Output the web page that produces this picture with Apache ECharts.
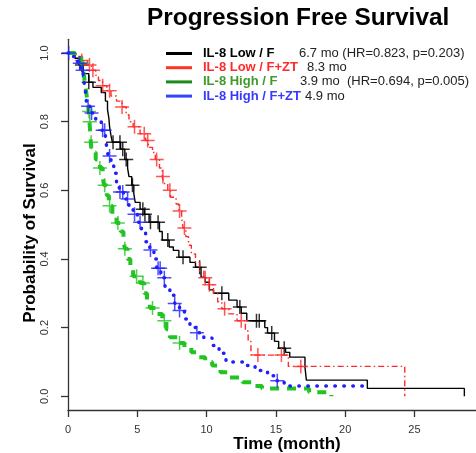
<!DOCTYPE html>
<html>
<head>
<meta charset="utf-8">
<script src="https://cdn.jsdelivr.net/npm/echarts@6/dist/echarts.min.js"></script>
<style>
  html, body { margin: 0; padding: 0; background: #fff; }
  #chart { width: 476px; height: 453px; }
</style>
</head>
<body>
<div id="chart"></div>
<script>
// Group labels and median PFS notes shown in the legend
const groupNames = ['IL-8 Low / F', 'IL-8 Low / F+ZT', 'IL-8 High / F', 'IL-8 High / F+ZT'];
const medianNotes = ['6.7 mo (HR=0.823, p=0.203)', '8.3 mo', '3.9 mo  (HR=0.694, p=0.005)', '4.9 mo'];

// Tick positions
const xTicks = [0, 5, 10, 15, 20, 25];
const yTicks = [0, 0.2, 0.4, 0.6, 0.8, 1.0];

// Kaplan-Meier steps: [time in months, survival after the event]
const lowF = [
  [0, 1], [0.5, 0.985], [0.8, 0.965], [1.1, 0.94], [1.5, 0.915], [1.8, 0.9], [2.4, 0.885],
  [2.7, 0.86], [2.85, 0.835], [2.95, 0.81], [3.0, 0.785], [3.1, 0.76], [3.2, 0.74], [3.8, 0.72],
  [4.1, 0.69], [4.3, 0.665], [4.4, 0.64], [4.6, 0.615], [4.75, 0.59], [4.85, 0.565], [5.2, 0.545],
  [5.5, 0.53], [5.85, 0.507], [6.6, 0.48], [6.8, 0.455], [7.3, 0.435], [7.6, 0.425], [8.0, 0.405],
  [8.8, 0.39], [9.2, 0.376], [9.6, 0.347], [9.9, 0.332], [10.2, 0.31], [10.5, 0.3], [11.6, 0.28],
  [12.2, 0.26], [12.5, 0.242], [12.9, 0.22], [14.2, 0.2], [14.4, 0.184], [14.9, 0.16], [15.2, 0.14],
  [15.7, 0.128], [16.0, 0.114], [17.1, 0.085], [17.2, 0.047], [21.6, 0.023], [28.6, 0]
];
const lowFZT = [
  [0, 1], [0.6, 0.99], [1.0, 0.978], [1.4, 0.965], [1.7, 0.95], [2.0, 0.935], [2.2, 0.92],
  [2.5, 0.905], [2.8, 0.89], [3.1, 0.875], [3.5, 0.86], [3.9, 0.843], [4.2, 0.82], [4.4, 0.8],
  [4.7, 0.785], [5.2, 0.765], [5.6, 0.745], [5.8, 0.725], [6.1, 0.71], [6.3, 0.69], [6.6, 0.665],
  [6.8, 0.64], [6.9, 0.62], [7.2, 0.6], [7.4, 0.58], [7.8, 0.56], [8.0, 0.54], [8.2, 0.52],
  [8.3, 0.49], [8.5, 0.465], [8.7, 0.44], [8.9, 0.415], [9.2, 0.39], [9.5, 0.365], [9.8, 0.345],
  [10.2, 0.325], [10.5, 0.3], [10.8, 0.275], [11.1, 0.255], [11.6, 0.24], [12.2, 0.22],
  [12.8, 0.19], [13.0, 0.16], [13.2, 0.12], [15.9, 0.087], [24.3, 0]
];
const highF = [
  [0, 1], [0.5, 0.985], [0.9, 0.97], [1.1, 0.95], [1.2, 0.92], [1.3, 0.89], [1.4, 0.86],
  [1.5, 0.83], [1.55, 0.8], [1.6, 0.77], [1.65, 0.74], [1.7, 0.71], [2.0, 0.69], [2.3, 0.665],
  [2.5, 0.64], [2.6, 0.615], [2.8, 0.585], [2.95, 0.555], [3.2, 0.53], [3.5, 0.505], [3.8, 0.48],
  [4.0, 0.455], [4.1, 0.43], [4.3, 0.4], [4.5, 0.375], [4.7, 0.35], [5.2, 0.33], [5.5, 0.3],
  [5.7, 0.28], [5.9, 0.257], [6.4, 0.24], [6.8, 0.22], [7.1, 0.195], [7.35, 0.172], [7.9, 0.155],
  [8.4, 0.143], [8.9, 0.128], [9.4, 0.114], [9.9, 0.1], [10.4, 0.09], [11.0, 0.07], [11.5, 0.055],
  [12.6, 0.041], [13.3, 0.03], [14.0, 0.023], [17.4, 0.012], [19.0, 0]
];
const highFZT = [
  [0, 1], [0.4, 0.99], [0.7, 0.97], [0.9, 0.95], [1.1, 0.93], [1.2, 0.905], [1.3, 0.875],
  [1.35, 0.845], [1.6, 0.825], [2.0, 0.8], [2.4, 0.775], [2.7, 0.75], [2.8, 0.725], [2.9, 0.7],
  [3.1, 0.675], [3.3, 0.65], [3.5, 0.62], [3.7, 0.595], [4.0, 0.575], [4.4, 0.555], [4.7, 0.53],
  [5.0, 0.507], [5.3, 0.478], [5.6, 0.45], [5.9, 0.426], [6.2, 0.4], [6.4, 0.373], [6.7, 0.345],
  [7.0, 0.32], [7.35, 0.294], [7.7, 0.27], [8.05, 0.25], [8.4, 0.225], [8.8, 0.2], [9.3, 0.185],
  [9.8, 0.17], [10.4, 0.148], [10.9, 0.125], [11.4, 0.1], [12.6, 0.09], [13.5, 0.075],
  [14.4, 0.06], [15.0, 0.045], [15.6, 0.03], [21.8, 0.03]
];

// Censoring times (months)
const lowFCensor = [1.0, 1.5, 3.25, 3.75, 3.95, 4.2, 4.65, 5.4, 5.55, 5.95, 6.5, 7.2, 8.3, 9.5, 11.1, 12.4, 13.6, 13.8, 14.7, 15.6];
const lowFZTCensor = [1.0, 1.55, 1.8, 2.5, 3.0, 3.9, 4.8, 5.5, 5.75, 6.4, 6.85, 7.35, 8.05, 8.4, 9.9, 10.2, 11.3, 12.5, 13.7, 15.4, 16.8];
const highFCensor = [1.05, 1.52, 1.57, 1.67, 2.3, 2.65, 3.0, 3.6, 4.1, 4.95, 5.4, 6.1, 6.95, 8.05];
const highFZTCensor = [0.05, 0.85, 1.05, 1.45, 1.7, 2.5, 2.65, 3.0, 3.75, 3.95, 4.3, 4.8, 5.2, 5.95, 6.5, 6.65, 6.95, 7.7, 8.05, 9.3, 15.1];

// Survival value of a step curve at time t
function survivalAt(steps, t) {
  let s = 1;
  for (const [time, value] of steps) {
    if (time <= t) s = value; else break;
  }
  return s;
}

const FONT = '"Liberation Sans", Arial, Helvetica, sans-serif';
const crossSymbol = 'path://M-7,-0.75H7V0.75H-7Z M-0.75,-7H0.75V7H-0.75Z';

const groups = [
  { steps: lowF, censor: lowFCensor, color: '#000000', legendColor: '#000000', textColor: '#000000',
    line: { width: 1.4, type: 'solid' } },
  { steps: lowFZT, censor: lowFZTCensor, color: '#ff2a2a', legendColor: '#ff3322', textColor: '#ff2a2a',
    line: { width: 1.4, type: [6, 3, 1.5, 3] } },
  { steps: highF, censor: highFCensor, color: '#22c422', legendColor: '#1a8a1a', textColor: '#3f9a2c',
    line: { width: 4, type: [9, 8] } },
  { steps: highFZT, censor: highFZTCensor, color: '#2020ff', legendColor: '#3344ff', textColor: '#3838ff',
    line: { width: 3.5, type: [0.5, 8.5], cap: 'round' } }
];

const nameWidths = [96, 104, 97, 102];
const rich = { g: { width: 6 } };
groups.forEach((g, i) => {
  rich['n' + i] = { fontFamily: FONT, fontSize: 13, fontWeight: 'bold', color: g.textColor, width: nameWidths[i], lineHeight: 13 };
  rich['v' + i] = { fontFamily: FONT, fontSize: 13, color: '#222', lineHeight: 13 };
});

const series = [];
groups.forEach((g, i) => {
  series.push({
    name: groupNames[i],
    type: 'line',
    step: 'end',
    symbol: 'none',
    data: g.steps,
    color: g.color,
    lineStyle: Object.assign({ color: g.color }, g.line),
    z: 2 + i
  });
  series.push({
    name: groupNames[i] + ' censored',
    type: 'scatter',
    symbol: crossSymbol,
    symbolSize: 14,
    data: g.censor.map(t => [t, survivalAt(g.steps, t)]),
    itemStyle: { color: g.color },
    z: 2 + i
  });
});

const chart = echarts.init(document.getElementById('chart'), null, { renderer: 'canvas' });
chart.setOption({
  animation: false,
  backgroundColor: '#ffffff',
  title: {
    text: 'Progression Free Survival',
    left: 147,
    top: 6,
    padding: 0,
    textStyle: { fontFamily: FONT, fontSize: 24.4, fontWeight: 'bold', color: '#000' }
  },
  legend: {
    orient: 'vertical',
    left: 166,
    top: 47,
    padding: 0,
    itemWidth: 26,
    itemHeight: 3,
    itemGap: 1.2,
    icon: 'rect',
    selectedMode: false,
    data: groups.map((g, i) => ({ name: groupNames[i], itemStyle: { color: g.legendColor } })),
    formatter: name => {
      const i = groupNames.indexOf(name);
      return '{g| }{n' + i + '|' + name + '}{v' + i + '|' + medianNotes[i] + '}';
    },
    textStyle: { rich: rich }
  },
  grid: { left: 68, right: 0, top: 39.3, bottom: 43, containLabel: false },
  xAxis: {
    type: 'value',
    min: 0,
    max: 29.44,
    axisLine: { onZero: false, lineStyle: { color: '#333', width: 1.3 } },
    axisTick: { customValues: xTicks, length: 7, lineStyle: { color: '#333', width: 1.3 } },
    axisLabel: { customValues: xTicks, margin: 14, fontFamily: FONT, fontSize: 11, color: '#333',
      formatter: v => String(v) },
    splitLine: { show: false }
  },
  yAxis: {
    type: 'value',
    min: -0.04,
    max: 1.04,
    axisLine: { show: true, lineStyle: { color: '#333', width: 1.3 } },
    axisTick: { show: true, customValues: yTicks, length: 7, lineStyle: { color: '#333', width: 1.3 } },
    axisLabel: { customValues: yTicks, rotate: 90, margin: 18, fontFamily: FONT, fontSize: 11, color: '#333',
      formatter: v => v.toFixed(1) },
    splitLine: { show: false }
  },
  graphic: [
    {
      type: 'text', x: 30, y: 233, rotation: Math.PI / 2,
      style: { text: 'Probability of Survival', fontFamily: FONT, fontSize: 17, fontWeight: 'bold',
        fill: '#000', align: 'center', verticalAlign: 'middle' }
    },
    {
      type: 'text', x: 287, y: 444,
      style: { text: 'Time (month)', fontFamily: FONT, fontSize: 17, fontWeight: 'bold',
        fill: '#000', align: 'center', verticalAlign: 'middle' }
    }
  ],
  series: series
});
</script>
</body>
</html>
